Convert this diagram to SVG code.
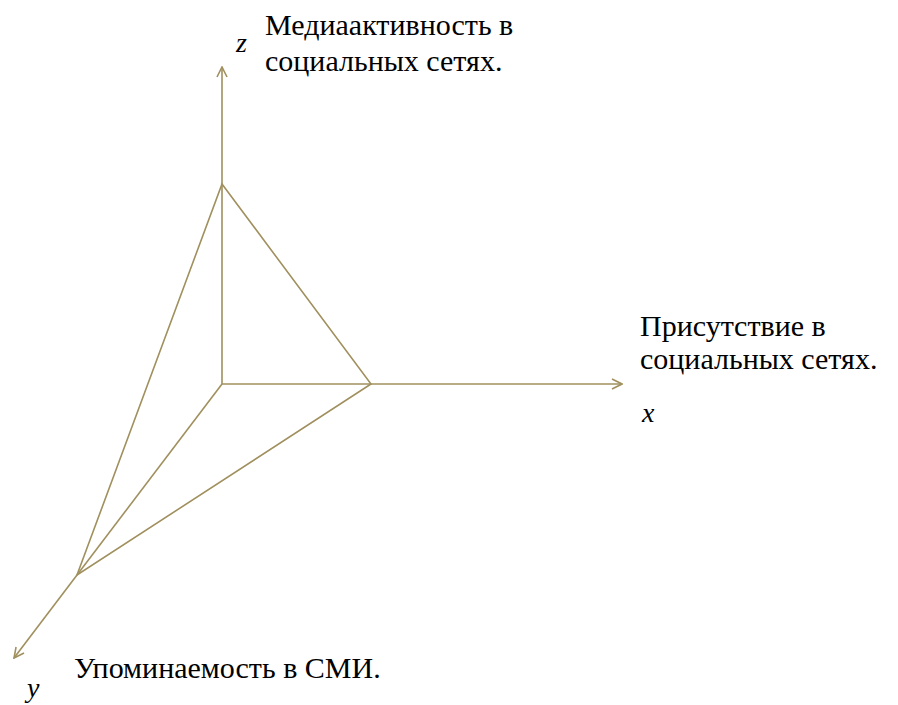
<svg xmlns="http://www.w3.org/2000/svg" width="898" height="705" viewBox="0 0 898 705">
<defs>
<marker id="ah" viewBox="0 0 12 12" refX="11" refY="6" markerWidth="12" markerHeight="12" markerUnits="userSpaceOnUse" orient="auto">
<path d="M1,1 L11,6 L1,11" fill="none" stroke="#a0905e" stroke-width="1.6"/>
</marker>
</defs>
<rect width="898" height="705" fill="#fff"/>
<g id="connectors">
<line x1="222" y1="384" x2="222" y2="67" stroke="#a0905e" stroke-width="1.6" marker-end="url(#ah)"/>
<line x1="222" y1="384" x2="622" y2="384" stroke="#a0905e" stroke-width="1.6" marker-end="url(#ah)"/>
<line x1="222" y1="384" x2="14" y2="658" stroke="#a0905e" stroke-width="1.6" marker-end="url(#ah)"/>
<polygon points="222,184 371,384 77,575" fill="none" stroke="#a0905e" stroke-width="1.6"/>
</g>
<g id="z-label">
<text x="236" y="52" font-family="Liberation Serif" font-size="28" font-style="italic">z</text>
<text x="265" y="35" font-family="Liberation Serif" font-size="30">Медиаактивность в</text>
<text x="265" y="71" font-family="Liberation Serif" font-size="30">социальных сетях.</text>
</g>
<g id="x-label">
<text x="640" y="336" font-family="Liberation Serif" font-size="30">Присутствие в</text>
<text x="640" y="369" font-family="Liberation Serif" font-size="30">социальных сетях.</text>
<text x="642" y="422" font-family="Liberation Serif" font-size="28" font-style="italic">x</text>
</g>
<g id="y-label">
<text x="74" y="678" font-family="Liberation Serif" font-size="30">Упоминаемость в СМИ.</text>
<text x="27" y="697" font-family="Liberation Serif" font-size="28" font-style="italic">y</text>
</g>
</svg>
